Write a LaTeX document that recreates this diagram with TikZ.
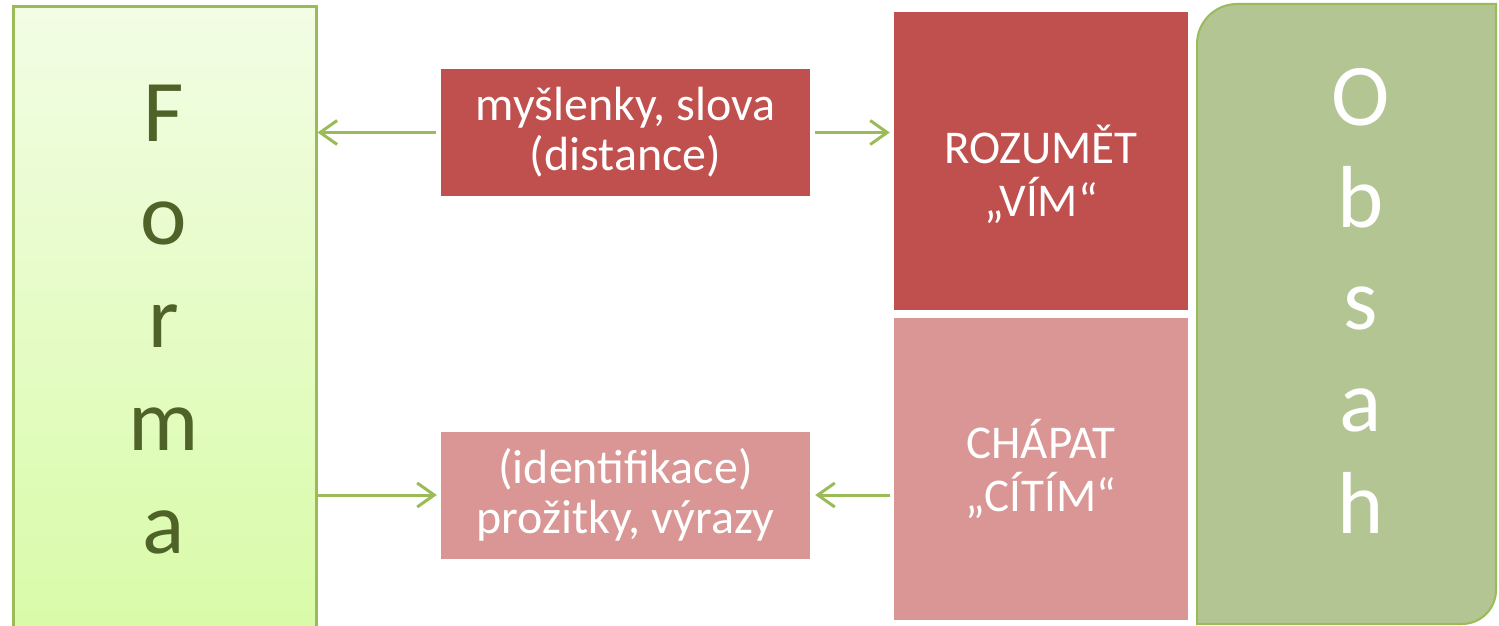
\documentclass[tikz,border=0pt]{standalone}
\usepackage{fontspec}
\setmainfont{Carlito}
\usetikzlibrary{arrows.meta}
\definecolor{darkred}{HTML}{C0504D}
\definecolor{pinkred}{HTML}{D99694}
\definecolor{leafgreen}{HTML}{9BBB59}
\definecolor{olivetext}{HTML}{4F6228}
\definecolor{sagefill}{HTML}{B3C592}
\definecolor{palegreen}{HTML}{F2FDE4}
\definecolor{limegreen}{HTML}{D8FBA6}

\begin{document}
\begin{tikzpicture}[x=1pt,y=-1pt,
  sidebox/.style={draw=leafgreen,line width=3pt,minimum width=303pt,minimum height=640pt,inner sep=0},
  box/.style={minimum width=369pt,minimum height=127pt,inner sep=0,text=white,align=center,
    font=\fontsize{48}{50}\selectfont},
  bigbox/.style={minimum width=294pt,inner sep=0,text=white,align=center,
    font=\fontsize{47}{53}\selectfont},
  letter/.style={anchor=base,inner sep=0,font=\fontsize{88}{100}\selectfont},
  link/.style={-{Straight Barb[length=17pt,width=24pt]},line width=3pt,draw=leafgreen}]
  \useasboundingbox (0,0) rectangle (1499,626);

  % Forma / Obsah
  \node[sidebox,top color=palegreen,bottom color=limegreen] (forma) at (164.5,327) {};
  \draw[draw=leafgreen,line width=2pt,fill=sagefill]
    (1197,624) [rounded corners=40pt] -- (1197,4) [sharp corners] -- (1496,4)
    [rounded corners=34pt] -- (1496,624) [sharp corners] -- cycle;
  \foreach \ch [count=\i from 0] in {F,o,r,m,a}
    \node[letter,text=olivetext] (forma\i) at (164,141+103*\i) {\ch};
  \foreach \ch [count=\i from 0] in {O,b,s,a,h}
    \node[letter,text=white] (obsah\i) at (1361,125+102*\i) {\ch};

  \node[box,fill=darkred] (myslenky) at (625.5,132.5) {myšlenky, slova\\(distance)};
  \node[box,fill=pinkred] (prozitky) at (625.5,495) {(identifikace)\\prožitky, výrazy};
  \node[bigbox,fill=darkred,minimum height=298pt,
    label={[bigbox,yshift=-13pt]center:ROZUMĚT\\„VÍM“}] (rozumet) at (1041,161) {};
  \node[bigbox,fill=pinkred,minimum height=302pt] (chapat) at (1041,469) {CHÁPAT\\„CÍTÍM“};

  \draw[link,shorten <=5pt] (myslenky.west) -- (forma.east |- myslenky.west);
  \draw[link,shorten <=5pt,shorten >=4pt] (myslenky.east) -- (rozumet.west |- myslenky.east);
  \draw[link,shorten >=4pt] (forma.east |- prozitky.west) -- (prozitky.west);
  \draw[link,shorten <=4pt,shorten >=5pt] (chapat.west |- prozitky.east) -- (prozitky.east);
\end{tikzpicture}
\end{document}
